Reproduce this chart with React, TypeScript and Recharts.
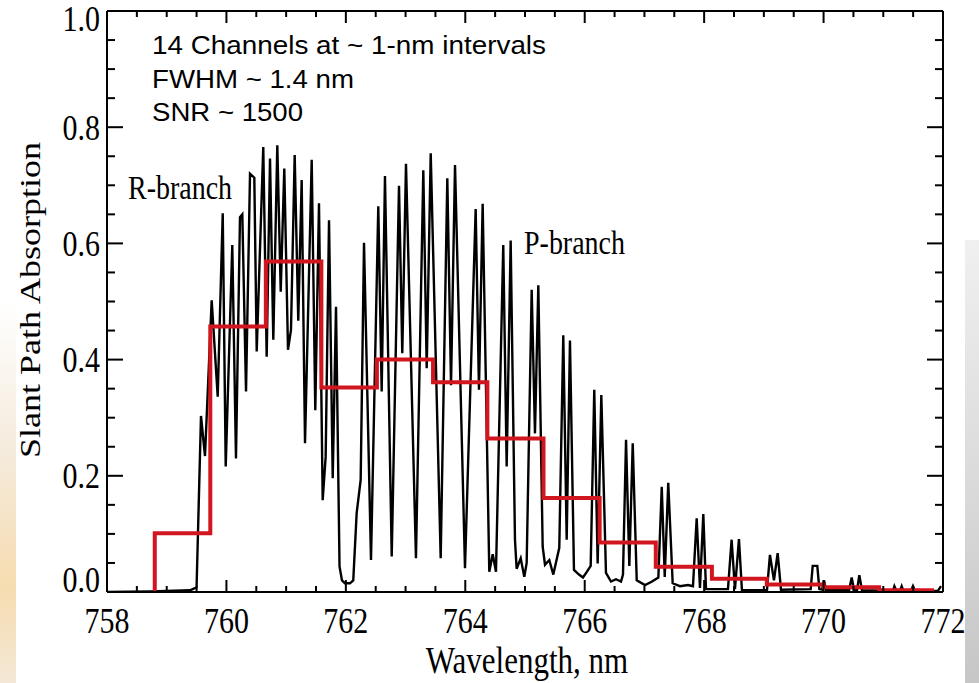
import React from "react";
import { LineChart, Line, XAxis, YAxis } from "recharts";

// ---- Data ----
const spectrumNm = [
  758.0, 758.72, 759.39, 759.5, 759.574, 759.641, 759.753, 759.854, 759.938, 759.988,
  760.098, 760.16, 760.227, 760.266, 760.328, 760.395, 760.467, 760.507, 760.617, 760.674,
  760.73, 760.785, 760.852, 760.909, 760.969, 761.031, 761.081, 761.143, 761.203, 761.26,
  761.316, 761.428, 761.488, 761.55, 761.612, 761.662, 761.718, 761.78, 761.835, 761.894,
  761.935, 761.985, 762.069, 762.124, 762.181, 762.248, 762.304, 762.421, 762.543, 762.6,
  762.655, 762.768, 762.89, 762.945, 763.007, 763.174, 763.297, 763.354, 763.421, 763.588,
  763.699, 763.761, 763.828, 763.995, 764.174, 764.229, 764.291, 764.402, 764.459, 764.514,
  764.636, 764.693, 764.76, 764.832, 764.86, 764.928, 764.988, 765.028, 765.112, 765.167,
  765.223, 765.296, 765.335, 765.407, 765.474, 765.574, 765.641, 765.698, 765.753, 765.82,
  765.904, 765.971, 766.038, 766.1, 766.16, 766.217, 766.278, 766.356, 766.44, 766.524,
  766.608, 766.641, 766.692, 766.747, 766.804, 766.871, 767.01, 767.127, 767.233, 767.29,
  767.34, 767.399, 767.473, 767.595, 767.729, 767.813, 767.875, 767.93, 767.986, 768.031,
  768.399, 768.46, 768.516, 768.583, 768.633, 769.052, 769.102, 769.169, 769.231, 769.287,
  769.784, 769.818, 769.895, 769.929, 769.975, 770.008, 770.042, 770.427, 770.471, 770.51,
  770.56, 770.599, 770.643, 771.163, 771.186, 771.219, 771.28, 771.308, 771.337, 771.464,
  771.497, 771.53, 771.916, 771.966,
];
const spectrumAbs = [
  0.0, 0.001, 0.003, 0.008, 0.303, 0.234, 0.502, 0.336, 0.652, 0.216,
  0.597, 0.23, 0.645, 0.65, 0.345, 0.72, 0.713, 0.414, 0.766, 0.405,
  0.746, 0.434, 0.769, 0.517, 0.729, 0.417, 0.451, 0.752, 0.467, 0.709,
  0.256, 0.744, 0.313, 0.669, 0.158, 0.233, 0.64, 0.196, 0.491, 0.044,
  0.02, 0.015, 0.015, 0.02, 0.136, 0.193, 0.601, 0.055, 0.664, 0.345,
  0.716, 0.061, 0.699, 0.411, 0.737, 0.058, 0.726, 0.385, 0.755, 0.058,
  0.712, 0.356, 0.735, 0.041, 0.659, 0.348, 0.668, 0.035, 0.065, 0.035,
  0.597, 0.216, 0.605, 0.09, 0.04, 0.058, 0.026, 0.05, 0.52, 0.273,
  0.528, 0.078, 0.047, 0.055, 0.03, 0.076, 0.442, 0.09, 0.433, 0.038,
  0.03, 0.025, 0.035, 0.045, 0.348, 0.049, 0.339, 0.033, 0.018, 0.022,
  0.018, 0.03, 0.262, 0.045, 0.256, 0.02, 0.012, 0.018, 0.025, 0.181,
  0.026, 0.188, 0.015, 0.01, 0.012, 0.01, 0.127, 0.007, 0.134, 0.005,
  0.005, 0.09, 0.005, 0.091, 0.003, 0.003, 0.064, 0.02, 0.067, 0.004,
  0.005, 0.045, 0.045, 0.005, 0.004, 0.02, 0.003, 0.003, 0.025, 0.004,
  0.003, 0.029, 0.003, 0.002, 0.01, 0.002, 0.002, 0.01, 0.002, 0.002,
  0.01, 0.002, 0.002, 0.01,
];

// 14 instrument channels (edges in nm, absorption per channel)
const channelEdges = [
  758.8, 759.73, 760.66, 761.59, 762.52, 763.46, 764.37, 765.31,
  766.25, 767.19, 768.13, 769.05, 770.0, 770.93, 771.85,
];
const channelAbs = [
  0.101, 0.457, 0.569, 0.352, 0.4, 0.361, 0.264, 0.162,
  0.085, 0.0435, 0.023, 0.013, 0.008, 0.003,
];

const xTicks = [
  758, 758.5, 759, 759.5, 760, 760.5, 761, 761.5, 762, 762.5, 763, 763.5, 764, 764.5,
  765, 765.5, 766, 766.5, 767, 767.5, 768, 768.5, 769, 769.5, 770, 770.5, 771, 771.5, 772,
];
const xLabels = [758, 760, 762, 764, 766, 768, 770, 772];
const yTicks = [
  0, 0.05, 0.1, 0.15, 0.2, 0.25, 0.3, 0.35, 0.4, 0.45, 0.5,
  0.55, 0.6, 0.65, 0.7, 0.75, 0.8, 0.85, 0.9, 0.95, 1.0,
];
const yLabels = [0, 0.2, 0.4, 0.6, 0.8, 1.0];

const annotationLines = ["14 Channels at ~ 1-nm intervals", "FWHM ~ 1.4 nm", "SNR ~ 1500"];

// ---- Derived series ----
const spectrumData = spectrumNm.map((x, i) => ({ x, y: spectrumAbs[i] }));
const channelData = [
  { x: channelEdges[0], y: 0 },
  ...channelAbs.map((y, i) => ({ x: channelEdges[i], y })),
  { x: channelEdges[channelEdges.length - 1], y: channelAbs[channelAbs.length - 1] },
];

const SERIF = "'Liberation Serif', 'Times New Roman', serif";
const SANS = "'Liberation Sans', Arial, Helvetica, sans-serif";
const STRETCH = 1.2;

const isLabelX = (v: number) => xLabels.some((l) => Math.abs(l - v) < 1e-6);
const isLabelY = (v: number) => yLabels.some((l) => Math.abs(l - v) < 1e-6);

const BottomTick = (p: any) => {
  const { x, y, payload } = p;
  const v = payload.value as number;
  const major = isLabelX(v);
  return (
    <g>
      <line x1={x} y1={y} x2={x} y2={y - (major ? 12 : 6)} stroke="#000" strokeWidth={2} />
      {major && (
        <text
          transform={`translate(${x},${y + 29}) scale(1,${STRETCH})`}
          textAnchor="middle"
          dominantBaseline="central"
          fontFamily={SERIF}
          fontSize={30}
          fill="#000"
        >
          {String(v)}
        </text>
      )}
    </g>
  );
};

const TopTick = (p: any) => {
  const { x, y, payload } = p;
  const v = payload.value as number;
  const major = isLabelX(v);
  return <line x1={x} y1={y} x2={x} y2={y + (major ? 12 : 6)} stroke="#000" strokeWidth={2} />;
};

const LeftTick = (p: any) => {
  const { x, y, payload } = p;
  const v = payload.value as number;
  const major = isLabelY(v);
  let dy = 0;
  if (Math.abs(v) < 1e-6) dy = -12;
  if (Math.abs(v - 1) < 1e-6) dy = 8;
  return (
    <g>
      <line x1={x} y1={y} x2={x + (major ? 16 : 8)} y2={y} stroke="#000" strokeWidth={2} />
      {major && (
        <text
          transform={`translate(${x - 7},${y + dy}) scale(1,${STRETCH})`}
          textAnchor="end"
          dominantBaseline="central"
          fontFamily={SERIF}
          fontSize={30}
          fill="#000"
        >
          {v.toFixed(1)}
        </text>
      )}
    </g>
  );
};

const RightTick = (p: any) => {
  const { x, y, payload } = p;
  const v = payload.value as number;
  const major = isLabelY(v);
  return <line x1={x} y1={y} x2={x - (major ? 16 : 8)} y2={y} stroke="#000" strokeWidth={2} />;
};

export default function App() {
  return (
    <div style={{ position: "absolute", left: 0, top: 0, width: 979, height: 683, background: "#fff", overflow: "hidden" }}>
      <div
        style={{
          position: "absolute", left: 0, top: 300, width: 16, height: 383,
          background: "linear-gradient(to bottom, rgba(246,236,222,0) 0%, #f5ebdc 40%, #f6dcb0 75%, #f4e8d6 100%)",
        }}
      />
      <div
        style={{
          position: "absolute", left: 965, top: 240, width: 14, height: 443,
          background: "linear-gradient(to bottom, #f0f0f0 0%, #d8d8d8 60%, #c6c6c6 100%)",
        }}
      />
      <div style={{ position: "absolute", left: 0, top: 0 }}>
        <LineChart width={979} height={683} margin={{ top: 10, right: 35, bottom: 1, left: 7 }}>
          <XAxis
            xAxisId="bottom"
            dataKey="x"
            type="number"
            domain={[758, 772]}
            ticks={xTicks}
            interval={0}
            allowDataOverflow
            height={90}
            tickSize={0}
            tickMargin={0}
            tickLine={false}
            axisLine={{ stroke: "#000", strokeWidth: 2 }}
            tick={BottomTick}
          />
          <XAxis
            xAxisId="top"
            orientation="top"
            dataKey="x"
            type="number"
            domain={[758, 772]}
            ticks={xTicks}
            interval={0}
            allowDataOverflow
            height={1}
            tickSize={0}
            tickMargin={0}
            tickLine={false}
            axisLine={{ stroke: "#000", strokeWidth: 2 }}
            tick={TopTick}
          />
          <YAxis
            yAxisId="left"
            type="number"
            domain={[0, 1]}
            ticks={yTicks}
            interval={0}
            allowDataOverflow
            width={100}
            tickSize={0}
            tickMargin={0}
            tickLine={false}
            axisLine={{ stroke: "#000", strokeWidth: 2 }}
            tick={LeftTick}
          />
          <YAxis
            yAxisId="right"
            orientation="right"
            type="number"
            domain={[0, 1]}
            ticks={yTicks}
            interval={0}
            allowDataOverflow
            width={1}
            tickSize={0}
            tickMargin={0}
            tickLine={false}
            axisLine={{ stroke: "#000", strokeWidth: 2 }}
            tick={RightTick}
          />
          <Line
            xAxisId="bottom"
            yAxisId="left"
            data={spectrumData}
            dataKey="y"
            type="linear"
            stroke="#000"
            strokeWidth={2.4}
            dot={false}
            activeDot={false}
            isAnimationActive={false}
          />
          <Line
            xAxisId="bottom"
            yAxisId="left"
            data={channelData}
            dataKey="y"
            type="stepAfter"
            stroke="#d2161f"
            strokeWidth={4}
            strokeLinejoin="miter"
            dot={false}
            activeDot={false}
            isAnimationActive={false}
          />
        </LineChart>
      </div>
      <svg width={979} height={683} style={{ position: "absolute", left: 0, top: 0, pointerEvents: "none" }}>
        <text
          transform={`translate(527,660) scale(1,${STRETCH})`}
          textAnchor="middle"
          dominantBaseline="central"
          fontFamily={SERIF}
          fontSize={31}
          fill="#000"
        >
          Wavelength, nm
        </text>
        <text
          transform={`translate(30,300) scale(1,${STRETCH}) rotate(-90)`}
          textAnchor="middle"
          dominantBaseline="central"
          fontFamily={SERIF}
          fontSize={30}
          fill="#000"
        >
          Slant Path Absorption
        </text>
        <text
          transform={`translate(128,188) scale(1,${STRETCH})`}
          dominantBaseline="central"
          fontFamily={SERIF}
          fontSize={28}
          fill="#000"
        >
          R-branch
        </text>
        <text
          transform={`translate(524,243) scale(1,${STRETCH})`}
          dominantBaseline="central"
          fontFamily={SERIF}
          fontSize={28}
          fill="#000"
        >
          P-branch
        </text>
        {annotationLines.map((t, i) => (
          <text
            key={t}
            x={152}
            y={54 + i * 33.5}
            fontFamily={SANS}
            fontSize={25.5}
            textLength={[394, 202, 151][i]}
            lengthAdjust="spacingAndGlyphs"
            fill="#000"
          >
            {t}
          </text>
        ))}
      </svg>
    </div>
  );
}
